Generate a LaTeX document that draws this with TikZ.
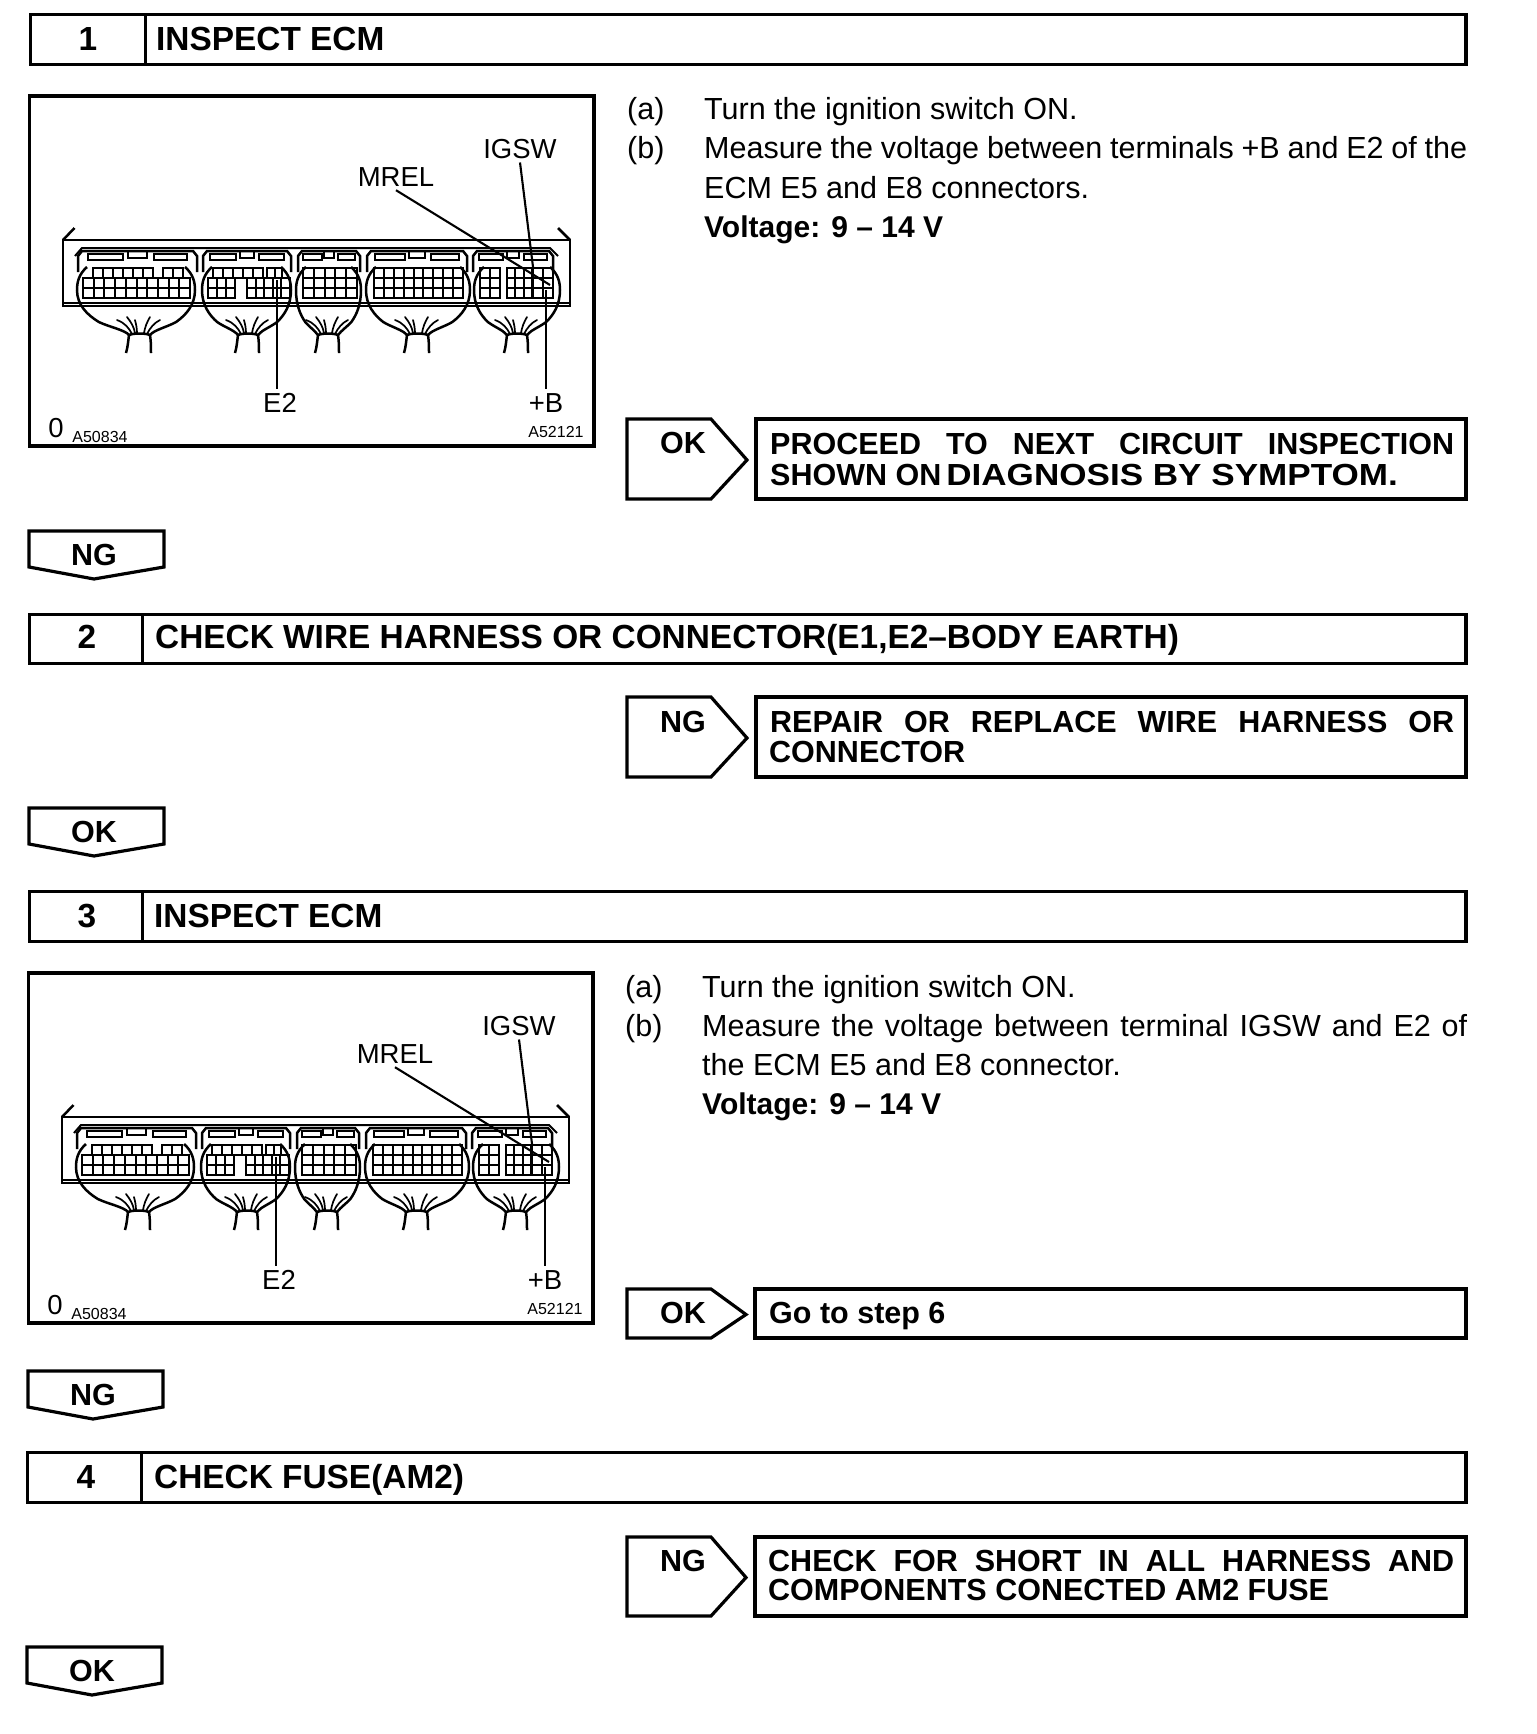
\documentclass[tikz,border=0pt]{standalone}
\usepackage{fontspec}
\setmainfont{Liberation Sans}
\tikzset{
  frameln/.style={line width=3.2pt,line join=miter},
  bodyln/.style={line width=2.5pt},
  gridln/.style={line width=2.0pt},
  wireln/.style={line width=1.7pt,line cap=round},
  leadln/.style={line width=2.1pt},
  bodytxt/.style={inner sep=0pt,anchor=base west,font=\fontsize{30.5}{34}\selectfont},
  boldtxt/.style={inner sep=0pt,anchor=base west,font=\fontsize{30.5}{34}\selectfont\bfseries},
  headtxt/.style={inner sep=0pt,anchor=base west,font=\fontsize{33.4}{36}\selectfont\bfseries},
  numtxt/.style={inner sep=0pt,anchor=base,font=\fontsize{33.4}{36}\selectfont\bfseries},
  flagtxt/.style={inner sep=0pt,anchor=base,font=\fontsize{30.5}{34}\selectfont\bfseries},
  lbltxt/.style={inner sep=4pt,anchor=base,font=\fontsize{27.5}{30}\selectfont},
  codetxt/.style={inner sep=0pt,anchor=base,font=\fontsize{16}{18}\selectfont},
}
\newcommand\jl[2]{\makebox[#1pt][s]{#2}}
% header bar: name, number, title, left, top, bottom, divider, number x, title x
\newcommand\headbar[9]{%
  \draw[frameln] (#4,#5) rectangle (1466,#6);
  \draw[frameln] (#7,#5) -- (#7,#6);
  \node[numtxt] (n#1) at (#8,#5+36) {#2};
  \node[headtxt] (h#1) at (#9,#5+36) {#3};
}
% side flag: name, label, top, bottom, label baseline, tip x
\newcommand\sideflag[6]{%
  \pgfmathsetmacro\midy{(#3+#4)/2+1}
  \draw[frameln] (627,#3) -- (711,#3) -- (#6,\midy) -- (711,#4) -- (627,#4) -- cycle;
  \node[flagtxt] (#1) at (683,#5) {#2};
}
% down flag: name, label, left, top
\newcommand\downflag[4]{%
  \draw[frameln] (#3,#4) -- (#3+135,#4) -- (#3+135,#4+36) -- (#3+65,#4+48) -- (#3,#4+36) -- cycle;
  \node[flagtxt] (#1) at (#3+65,#4+34) {#2};
}
% grid of cells
\newcommand\cgrid[6]{%
  \draw[gridln] (#1,#4) rectangle (#2,#5);
  \foreach \i in {1,...,#3}{\pgfmathsetmacro\xx{#1+\i*(#2-#1)/#3}\draw[gridln] (\xx,#4) -- (\xx,#5);}
  \foreach \i in {1,...,#6}{\pgfmathsetmacro\yy{#4+\i*(#5-#4)/#6}\draw[gridln] (#1,\yy) -- (#2,\yy);}
}
% housing of a connector: left, right
\newcommand\housing[2]{%
  \pgfmathsetmacro\w{#2-#1}
  \draw[bodyln] (#1,272) -- (#1,256) -- (#1+4,251) -- (#2-4,251) -- (#2,256) -- (#2,272);
  \draw[gridln] (#1+.08*\w,260) -- (#1+.08*\w,254) -- (#1+.38*\w,254) -- (#1+.38*\w,260) -- cycle;
  \draw[gridln] (#1+.42*\w,251) -- (#1+.42*\w,258) -- (#1+.58*\w,258) -- (#1+.58*\w,251);
  \draw[gridln] (#1+.64*\w,260) -- (#1+.64*\w,254) -- (#1+.92*\w,254) -- (#1+.92*\w,260) -- cycle;
}
% harness: left, right, tail left, tail right
\newcommand\harness[4]{%
  \pgfmathsetmacro\dl{#3-#1}\pgfmathsetmacro\dr{#2-#4}
  \draw[bodyln] (#1+10,267) .. controls (#1+2,274) and (#1,282) .. (#1,290)
     .. controls (#1,305) and (#1+.2*\dl,315) .. (#1+.42*\dl,322)
     .. controls (#1+.62*\dl,327) and (#3-4,330) .. (#3,335);
  \draw[bodyln] (#2-10,267) .. controls (#2-2,274) and (#2,282) .. (#2,290)
     .. controls (#2,305) and (#2-.2*\dr,315) .. (#2-.42*\dr,322)
     .. controls (#2-.62*\dr,327) and (#4+4,330) .. (#4,335);
  \draw[bodyln] (#3,335) .. controls (#3+5,333) and (#4-5,333) .. (#4,335);
  \draw[bodyln] (#3,335) .. controls (#3-1,342) and (#3-1,346) .. (#3-3,353);
  \draw[bodyln] (#4,335) .. controls (#4+1,342) and (#4+1,346) .. (#4+1,353);
  \draw[wireln] (#3+3,334) .. controls (#3,328) and (#3-4,323) .. (#3-12,320);
  \draw[wireln] (#3+6,333) .. controls (#3+5,327) and (#3+2,322) .. (#3-2,317);
  \draw[wireln] (#4-3,334) .. controls (#4,328) and (#4+4,323) .. (#4+10,320);
  \draw[wireln] (#4-6,333) .. controls (#4-5,327) and (#4-3,322) .. (#4,317);
  \draw[wireln] (#3+8,333) .. controls (#3+8,328) and (#3+7,324) .. (#3+6,320);
}
% the ECM picture: prefix, dx, dy
\newcommand\ecmview[3]{%
 \begin{scope}[shift={(#2,#3)}]
  \draw[frameln] (29.5,96) rectangle (594,446);
  \node[lbltxt] (#1-igsw) at (520,158) {IGSW};
  \node[lbltxt] (#1-mrel) at (396,186) {MREL};
  \node[lbltxt] (#1-e2) at (280,412) {E2};
  \node[lbltxt] (#1-b) at (546,412) {+B};
  \node[lbltxt,inner sep=0pt] (#1-zero) at (56,437) {0};
  \node[codetxt] (#1-codea) at (100,442) {A50834};
  \node[codetxt] (#1-codeb) at (556,437) {A52121};
  \draw[bodyln] (63,306) -- (63,240) -- (570,240) -- (570,306) -- cycle;
  \draw[bodyln] (63,240) -- (74.5,228);
  \draw[bodyln] (570,240) -- (558,228);
  \draw[gridln] (75,256) -- (82,248) -- (550,248) -- (558,256);
  \draw[gridln] (63,303) -- (570,303);
  \housing{78}{197}\housing{203}{291}\housing{298}{360}\housing{367}{467}\housing{473}{553}
  \cgrid{93}{153}{6}{268}{278}{1}\cgrid{163}{183}{2}{268}{278}{1}\cgrid{83}{190}{10}{278}{298}{2}
  \cgrid{213}{263}{5}{268}{278}{1}\cgrid{267}{282}{2}{268}{278}{1}\cgrid{208}{235}{3}{278}{298}{2}\cgrid{247}{290}{5}{278}{298}{2}
  \cgrid{303}{357}{5}{268}{298}{3}
  \cgrid{374}{463}{9}{268}{298}{3}
  \cgrid{480}{500}{2}{268}{298}{3}\cgrid{507}{532}{3}{268}{298}{3}\cgrid{533}{553}{2}{268}{298}{3}
  \harness{77}{195}{129}{150}\harness{202}{291}{238}{258}\harness{296}{361}{318}{338}
  \harness{366}{470}{407}{428}\harness{474}{560}{507}{527}
  \coordinate (#1-pm) at (550,285);
  \coordinate (#1-pi) at (533,267);
  \coordinate (#1-pe) at (277,280);
  \coordinate (#1-pb) at (546,290);
  \draw[leadln] (#1-mrel.south) -- (#1-pm);
  \draw[leadln] (#1-igsw.south) -- (#1-pi);
  \draw[leadln] ([xshift=-3pt]#1-e2.north) -- (#1-pe);
  \draw[leadln] (#1-b.north) -- (#1-pb);
 \end{scope}
}
\begin{document}
\begin{tikzpicture}[x=1pt,y=-1pt]
\useasboundingbox (0,0) rectangle (1536,1734);
\fill[white] (0,0) rectangle (1536,1734);

\headbar{a}{1}{INSPECT ECM}{30.4}{14.4}{64.4}{145.4}{88}{156}
\headbar{b}{\raisebox{1.5pt}{2}}{\raisebox{1.5pt}{CHECK WIRE HARNESS OR CONNECTOR(E1,E2–BODY EARTH)}}{29.4}{614.4}{663.4}{142.4}{87}{155}
\headbar{c}{3}{INSPECT ECM}{29.4}{891.4}{941.4}{142.4}{87}{154}
\headbar{d}{4}{CHECK FUSE(AM2)}{27.4}{1452.4}{1502.4}{141.4}{86}{154}

\ecmview{va}{0}{0}
\ecmview{vb}{-1}{877}

% step 1 text
\node[bodytxt] (a1) at (627,120) {(a)};
\node[bodytxt] (a2) at (704,120) {Turn the ignition switch ON.};
\node[bodytxt] (a3) at (627,158) {(b)};
\node[bodytxt] (a4) at (704,158) {\jl{763}{Measure the voltage between terminals +B and E2 of the}};
\node[bodytxt] (a5) at (704,198) {ECM E5 and E8 connectors.};
\node[boldtxt,font=\fontsize{30}{34}\selectfont\bfseries] (a6) at (704,237) {Voltage: 9 – 14 V};

% step 3 text
\node[bodytxt] (c1) at (625,997) {(a)};
\node[bodytxt] (c2) at (702,997) {Turn the ignition switch ON.};
\node[bodytxt] (c3) at (625,1036) {(b)};
\node[bodytxt] (c4) at (702,1036) {\jl{765}{Measure the voltage between terminal IGSW and E2 of}};
\node[bodytxt] (c5) at (702,1075) {the ECM E5 and E8 connector.};
\node[boldtxt,font=\fontsize{30}{34}\selectfont\bfseries] (c6) at (702,1114) {Voltage: 9 – 14 V};

% result flags and boxes
\sideflag{fa}{OK}{419}{499}{453}{747}
\draw[frameln] (756,419) rectangle (1466,499);
\node[boldtxt] (ra1) at (770,454) {\jl{684}{PROCEED TO NEXT CIRCUIT INSPECTION}};
\node[boldtxt] (ra2) at (770,485.5) {SHOWN ON\kern5pt\scalebox{1.15}[1]{DIAGNOSIS BY SYMPTOM.}};

\sideflag{fb}{NG}{697}{777}{732}{747}
\draw[frameln] (756,697) rectangle (1466,777);
\node[boldtxt] (rb1) at (770,732) {\jl{684}{REPAIR OR REPLACE WIRE HARNESS OR}};
\node[boldtxt] (rb2) at (769,762) {CONNECTOR};

\sideflag{fc}{OK}{1289}{1338}{1323.5}{746}
\draw[frameln] (755,1289) rectangle (1466,1338);
\node[boldtxt] (rc1) at (769,1323.5) {Go to step 6};

\sideflag{fd}{NG}{1537}{1616}{1571}{746}
\draw[frameln] (755,1537) rectangle (1466,1616);
\node[boldtxt] (rd1) at (768,1571) {\jl{686}{CHECK FOR SHORT IN ALL HARNESS AND}};
\node[boldtxt] (rd2) at (768,1600) {COMPONENTS CONECTED AM2 FUSE};

\downflag{da}{NG}{29}{531}
\downflag{db}{OK}{29}{808}
\downflag{dc}{NG}{28}{1371}
\downflag{dd}{OK}{27}{1647}
\end{tikzpicture}
\end{document}
